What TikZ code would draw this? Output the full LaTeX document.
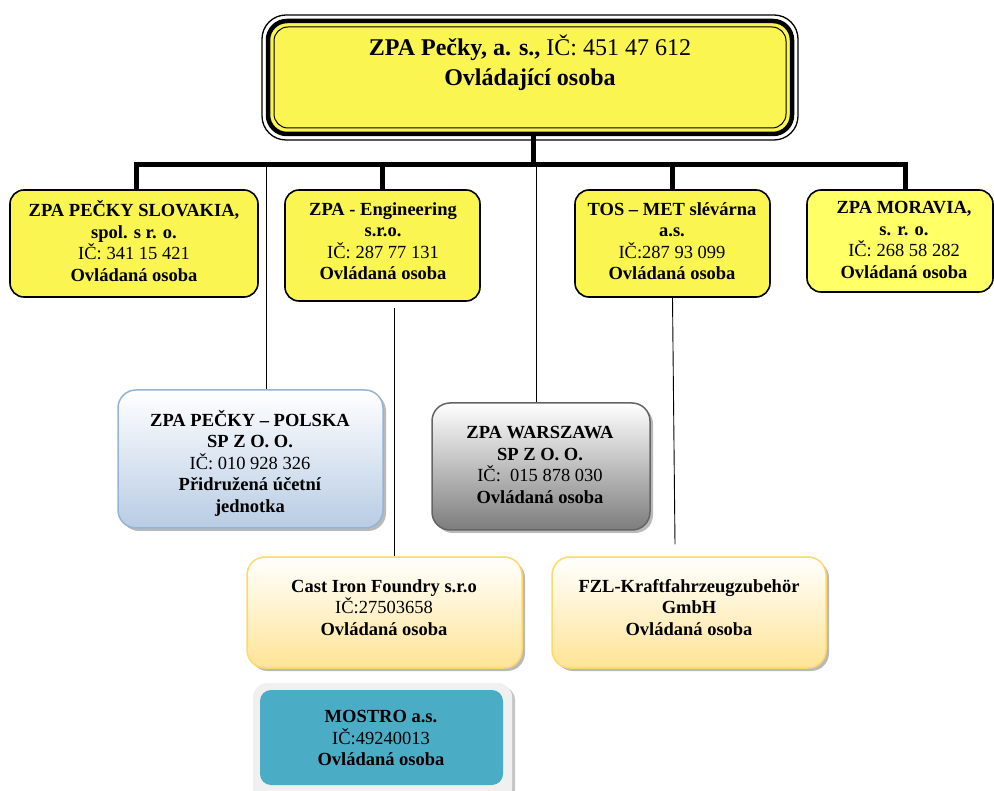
\documentclass[tikz,border=0pt]{standalone}
\usepackage{fontspec}
\setmainfont{Liberation Serif}
\usetikzlibrary{shadows}
\definecolor{ylw}{RGB}{250,245,80}
\definecolor{ylw2}{RGB}{255,255,102}
\definecolor{teal2}{RGB}{75,172,198}
\definecolor{frame}{RGB}{240,240,240}
\definecolor{goldb}{RGB}{255,217,102}
\definecolor{goldf}{RGB}{255,228,150}
\definecolor{blueb}{RGB}{149,179,215}
\definecolor{bluef}{RGB}{184,204,228}
\definecolor{grayb}{RGB}{100,100,100}
\definecolor{grayf}{RGB}{125,125,125}
\begin{document}
\begin{tikzpicture}[x=1pt,y=-1pt,
  box/.style={draw=black, line width=1.6pt, rounded corners=14pt, fill=ylw, inner sep=0pt},
  txt/.style={align=center, font=\fontsize{18.5}{21.5}\selectfont, inner sep=0pt},
  bus/.style={line width=5pt},
  thinline/.style={line width=0.9pt},
  lvltwo/.style={rounded corners=18pt, line width=1.5pt, inner sep=0pt,
     drop shadow={shadow xshift=3pt, shadow yshift=-3pt, fill=black!55}}
]
\useasboundingbox (0,0) rectangle (994,791);

% top box
\node[draw, line width=1.3pt, rounded corners=24pt, minimum width=536pt, minimum height=125pt, inner sep=0pt] (top) at (530,77.5) {};
\node[draw, fill=ylw, line width=4.5pt, rounded corners=19pt, minimum width=524pt, minimum height=113pt, inner sep=0pt] (topmid) at (530,77.5) {};
\node[draw, line width=1pt, rounded corners=14pt, minimum width=512pt, minimum height=101pt, inner sep=0pt] (topin) at (530,77.5) {};
\node[align=center, font=\fontsize{24}{30}\selectfont, inner sep=0pt] (toptxt) at (530,63) {\textbf{ZPA Pečky, a. s.,} IČ: 451 47 612\\ \textbf{Ovládající osoba}};

% level 1
\node[box, minimum width=248pt, minimum height=107pt] (s1) at (134,243.5) {};
\node[txt] (t1) at (134,241) {\textbf{ZPA PEČKY SLOVAKIA,}\\ \textbf{spol. s r. o.}\\ IČ: 341 15 421\\ \textbf{Ovládaná osoba}};
\node[box, minimum width=195pt, minimum height=111pt] (s2) at (382.5,245.5) {};
\node[txt] (t2) at (383,241) {\textbf{ZPA - Engineering}\\ \textbf{s.r.o.}\\ IČ: 287 77 131\\ \textbf{Ovládaná osoba}};
\node[box, minimum width=195pt, minimum height=107pt] (s3) at (672.5,243.5) {};
\node[txt] (t3) at (672,241) {\textbf{TOS – MET slévárna}\\ \textbf{a.s.}\\ IČ:287 93 099\\ \textbf{Ovládaná osoba}};
\node[box, fill=ylw2, minimum width=186pt, minimum height=102pt] (s4) at (900,241) {};
\node[txt] (t4) at (904,240) {\textbf{ZPA MORAVIA,}\\ \textbf{s. r. o.}\\ IČ: 268 58 282\\ \textbf{Ovládaná osoba}};

% level 2
\node[lvltwo, draw=blueb, top color=white, bottom color=bluef, minimum width=265pt, minimum height=138pt] (p) at (250.5,459) {};
\node[txt] (tp) at (250,463) {\textbf{ZPA PEČKY – POLSKA}\\ \textbf{SP Z O. O.}\\ IČ: 010 928 326\\ \textbf{Přidružená účetní}\\ \textbf{jednotka}};
\node[lvltwo, draw=grayb, top color=white, bottom color=grayf, minimum width=218pt, minimum height=127pt] (w) at (541,466.5) {};
\node[txt] (tw) at (540,465) {\textbf{ZPA WARSZAWA}\\ \textbf{SP Z O. O.}\\ IČ:\ \ 015 878 030\\ \textbf{Ovládaná osoba}};
\node[lvltwo, draw=goldb, top color=white, bottom color=goldf, minimum width=275pt, minimum height=111pt] (c) at (384.5,612.5) {};
\node[txt] (tc) at (384,607.5) {\textbf{Cast Iron Foundry s.r.o}\\ IČ:27503658\\ \textbf{Ovládaná osoba}};
\node[lvltwo, draw=goldb, top color=white, bottom color=goldf, minimum width=274pt, minimum height=111pt] (f) at (689,612.5) {};
\node[txt] (tf) at (689,607.5) {\textbf{FZL-Kraftfahrzeugzubehör}\\ \textbf{GmbH}\\ \textbf{Ovládaná osoba}};

% MOSTRO
\node[fill=frame, rounded corners=14pt, minimum width=259pt, minimum height=120pt, inner sep=0pt,
  drop shadow={shadow xshift=3pt, shadow yshift=-3pt, fill=black!45}] (mframe) at (382.5,743) {};
\node[fill=teal2, rounded corners=11pt, minimum width=243pt, minimum height=95pt, inner sep=0pt] (m) at (381.5,737.5) {};
\node[txt] (tm) at (381,738) {\textbf{MOSTRO a.s.}\\ IČ:49240013\\ \textbf{Ovládaná osoba}};

% connectors
\draw[thinline] ([xshift=15.5pt]p.north) -- ++(0,-226);
\draw[thinline] ([xshift=-5pt]w.north) -- ++(0,-236);
\draw[thinline] ([xshift=9.5pt]c.north) -- ++(0,-248);
\draw[thinline] ([shift={(-14,-12)}]f.north) -- (s3.south);
\draw[bus] ([xshift=3pt]topmid.south) -- ++(0,27);
\draw[bus, line join=miter] ([xshift=2pt]s1.north) -- ++(0,-25) -| ([xshift=5pt]s4.north);
\draw[bus] (s2.north) -- ++(0,-25);
\draw[bus] (s3.north) -- ++(0,-25);
\end{tikzpicture}
\end{document}
